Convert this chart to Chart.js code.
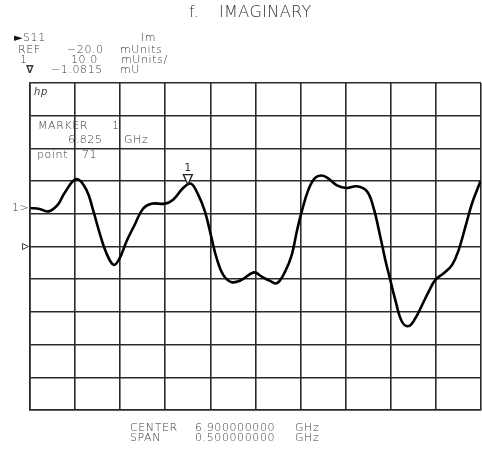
<!DOCTYPE html>
<html>
<head>
<meta charset="utf-8">
<script src="https://cdn.jsdelivr.net/npm/chart.js@4"></script>
<style>
  html, body { margin: 0; padding: 0; background: #fff; }
  #wrap { position: relative; width: 482px; height: 465px; overflow: hidden; }
  canvas { position: absolute; left: 0; top: 0; }
  .t { position: absolute; font-family: "DejaVu Sans", sans-serif; font-size: 11px; line-height: 11px;
       color: #3a3a3a; white-space: pre; letter-spacing: 0.6px; font-weight: 200; }
  .title { font-size: 16px; line-height: 16px; letter-spacing: 0.4px; color: #333; }
</style>
</head>
<body>
<div id="wrap">
  <canvas id="c" width="482" height="465"></canvas>
  <div class="t title" style="left:189px;top:4px;">f.</div>
  <div class="t title" style="left:219px;top:4px;">IMAGINARY</div>
  <div class="t" style="left:14px;top:32px;font-weight:400;color:#111;">&#9658;</div>
  <div class="t" style="left:23px;top:32px;">S11</div>
  <div class="t" style="left:141px;top:32px;">Im</div>
  <div class="t" style="left:18px;top:44px;">REF</div>
  <div class="t" style="left:67px;top:44px;">−20.0</div>
  <div class="t" style="left:120px;top:44px;">mUnits</div>
  <div class="t" style="left:20px;top:54px;">1</div>
  <div class="t" style="left:71px;top:54px;">10.0</div>
  <div class="t" style="left:121px;top:54px;">mUnits/</div>
  <div class="t" style="left:26px;top:64px;font-weight:bold;">&#8711;</div>
  <div class="t" style="left:51px;top:64px;">−1.0815</div>
  <div class="t" style="left:120px;top:64px;">mU</div>
  <div class="t" style="left:34px;top:86px;font-style:italic;font-size:10px;">hp</div>
  <div class="t" style="left:38px;top:120px;">MARKER</div>
  <div class="t" style="left:112px;top:120px;">1</div>
  <div class="t" style="left:68px;top:134px;">6.825</div>
  <div class="t" style="left:124px;top:134px;">GHz</div>
  <div class="t" style="left:37px;top:149px;">point</div>
  <div class="t" style="left:82px;top:149px;">71</div>
  <div class="t" style="left:12px;top:202px;">1&gt;</div>
  <div class="t" style="left:130px;top:422px;">CENTER</div>
  <div class="t" style="left:195px;top:422px;">6.900000000</div>
  <div class="t" style="left:295px;top:422px;">GHz</div>
  <div class="t" style="left:130px;top:432px;">SPAN</div>
  <div class="t" style="left:195px;top:432px;">0.500000000</div>
  <div class="t" style="left:295px;top:432px;">GHz</div>
</div>
<script>
// Frequency (GHz) of traced points
const freqGHz = [6.6506, 6.6606, 6.6709, 6.6809, 6.6883, 6.7013, 6.7124, 6.7198, 6.7272, 6.7347,
  6.7428, 6.7494, 6.7569, 6.7661, 6.7753, 6.7847, 6.7994, 6.8087, 6.8198, 6.8283,
  6.8364, 6.8439, 6.8513, 6.8569, 6.8642, 6.8736, 6.8847, 6.8983, 6.9069, 6.9161,
  6.9239, 6.9328, 6.9402, 6.9458, 6.9513, 6.9587, 6.9661, 6.9736, 6.9809, 6.9903,
  7.0013, 7.0124, 7.0236, 7.0309, 7.0383, 7.0439, 7.0494, 7.0550, 7.0624, 7.0698,
  7.0772, 7.0847, 7.0920, 7.0994, 7.1087, 7.1180, 7.1253, 7.1328, 7.1402, 7.1494];
// Imaginary part (mUnits)
const imagMU = [-8.22, -8.53, -9.26, -7.21, -3.62, 0.61, -2.61, -8.74, -15.89, -22.02,
  -25.61, -23.56, -18.47, -13.34, -8.44, -6.90, -6.90, -5.67, -2.09, -0.77,
  -4.14, -9.26, -17.42, -23.56, -28.68, -30.92, -30.21, -27.91, -29.20, -30.52,
  -31.23, -27.67, -22.55, -15.40, -9.26, -2.61, 0.98, 1.69, 0.77, -1.29,
  -2.09, -1.60, -3.13, -8.22, -16.93, -24.08, -30.21, -36.35, -43.01, -44.33,
  -41.96, -37.88, -33.80, -30.21, -28.16, -25.61, -21.01, -13.87, -6.69, -0.06];
const xTicks = [6.65, 6.70, 6.75, 6.80, 6.85, 6.90, 6.95, 7.00, 7.05, 7.10, 7.15];
const yTicks = [-70, -60, -50, -40, -30, -20, -10, 0, 10, 20, 30];
const markerFreq = [6.825];
const markerValue = [-1.0815];
const markerLabel = ['1'];
const refValue = [-20];

const markerPlugin = {
  id: 'markers',
  afterDatasetsDraw(chart) {
    const ctx = chart.ctx, xs = chart.scales.x, ys = chart.scales.y;
    ctx.save();
    ctx.strokeStyle = '#222'; ctx.lineWidth = 1.3; ctx.fillStyle = '#fff';
    markerFreq.forEach((f, i) => {
      const px = xs.getPixelForValue(f), py = ys.getPixelForValue(markerValue[i]);
      ctx.beginPath();
      ctx.moveTo(px, py); ctx.lineTo(px - 4.5, py - 10); ctx.lineTo(px + 4.5, py - 10); ctx.closePath();
      ctx.fill(); ctx.stroke();
      ctx.fillStyle = '#333';
      ctx.font = '11px "DejaVu Sans"'; ctx.textAlign = 'center'; ctx.textBaseline = 'alphabetic';
      ctx.fillText(markerLabel[i], px, py - 14);
    });
    refValue.forEach(v => {
      const py = ys.getPixelForValue(v);
      ctx.beginPath(); ctx.strokeStyle = '#444'; ctx.lineWidth = 1;
      ctx.moveTo(22.5, py - 3); ctx.lineTo(28.5, py); ctx.lineTo(22.5, py + 3); ctx.closePath();
      ctx.stroke();
    });
    ctx.restore();
  }
};

const pts = freqGHz.map((f, i) => ({ x: f, y: imagMU[i] }));
new Chart(document.getElementById('c'), {
  type: 'line',
  data: { datasets: [{ data: pts, borderColor: '#000', borderWidth: 2.6, pointRadius: 0,
    tension: 0.4, fill: false }] },
  options: {
    responsive: false, animation: false, devicePixelRatio: 1,
    layout: { padding: { left: 30, top: 83, right: 1, bottom: 55 } },
    plugins: { legend: { display: false }, tooltip: { enabled: false } },
    scales: {
      x: { type: 'linear', min: 6.65, max: 7.15,
        afterBuildTicks: s => { s.ticks = xTicks.map(v => ({ value: v })); },
        ticks: { display: false }, grid: { color: '#2a2a2a', lineWidth: 1.6, drawTicks: false },
        border: { color: '#2a2a2a', width: 1.6 } },
      y: { type: 'linear', min: -70, max: 30,
        afterBuildTicks: s => { s.ticks = yTicks.map(v => ({ value: v })); },
        ticks: { display: false }, grid: { color: '#2a2a2a', lineWidth: 1.6, drawTicks: false },
        border: { color: '#2a2a2a', width: 1.6 } }
    }
  },
  plugins: [markerPlugin]
});
</script>
</body>
</html>
